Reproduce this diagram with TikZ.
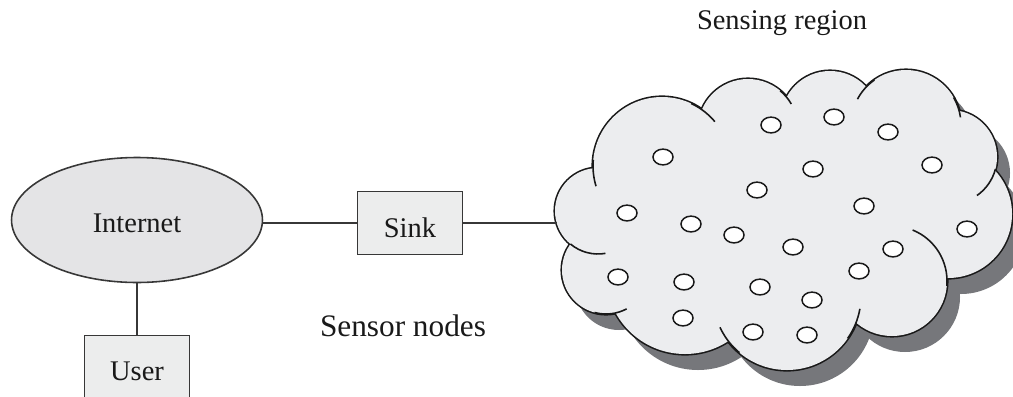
\documentclass[tikz,border=0pt]{standalone}
\usepackage{fontspec}
\setmainfont{Liberation Serif}
\usetikzlibrary{positioning,shapes.geometric}
\definecolor{inetgray}{RGB}{228,228,230}
\definecolor{boxgray}{RGB}{236,237,237}
\definecolor{cloudgray}{RGB}{236,237,239}
\definecolor{shadegray}{RGB}{118,119,123}
\definecolor{edgegray}{RGB}{55,55,55}
\definecolor{inkblack}{RGB}{25,25,25}

\begin{document}
\begin{tikzpicture}[x=0.02cm, y=-0.02cm,
  every node/.style={font=\fontsize{16.2}{19}\selectfont, text=inkblack},
  box/.style={draw=edgegray, line width=0.9pt, fill=boxgray, minimum width=2.1cm, minimum height=1.26cm, inner sep=0pt, text height=15pt, text depth=0pt},
  link/.style={draw=edgegray, line width=0.9pt},
  sensor/.style={draw=inkblack, line width=0.85pt, fill=white}]
  \useasboundingbox (0,0) rectangle (1013,396);
  % cloud bumps: centre x / centre y / radius
  \def\bumps{598/211/43, 662/166/69, 748/129/50, 830/120/49, 906/125/55, 950/157/47, 948/214/64, 892/281/55, 787/296/74, 685/275/79, 606/270/44}
  \def\core{(598,211)--(662,166)--(748,129)--(830,120)--(906,125)--(950,157)--(948,214)--(892,281)--(787,296)--(685,275)--(606,270)--cycle}
  % shadow
  \foreach \cx/\cy/\r in \bumps \fill[shadegray] (\cx+13,\cy+16) circle (\r);
  \fill[shadegray,shift={(13,16)}] \core;
  % outline, then fill over the inner half
  \foreach \cx/\cy/\r in \bumps \draw[inkblack, line width=1.8pt] (\cx,\cy) circle (\r);
  \foreach \cx/\cy/\r in \bumps \fill[cloudgray] (\cx,\cy) circle (\r);
  \fill[cloudgray] \core;
  % notches where the bumps meet
  \foreach \cx/\cy/\r/\a/\b in {662/166/69/185/163, 662/166/69/295/320, 748/129/50/310/330,
      906/125/55/235/208, 906/125/55/330/352, 950/157/47/15/55, 892/281/55/5/-68,
      787/296/74/35/10, 787/296/74/130/155, 606/270/44/105/62, 598/211/43/130/80}
    \draw[inkblack, line width=0.9pt] (\cx,\cy) ++(\a:\r) arc (\a:\b:\r);
  % sensor nodes
  \foreach \sx/\sy in {663/157, 771/125, 834/117, 888/132, 932/165, 813/169, 757/190, 864/206,
      627/213, 691/224, 734/235, 793/247, 893/249, 967/229, 618/277, 684/282, 760/287,
      859/271, 812/300, 683/318, 753/332, 807/335}
    \draw[sensor] (\sx,\sy) ellipse (10 and 7.9);

  \node[ellipse, draw=edgegray, line width=0.9pt, fill=inetgray, minimum width=5.02cm, minimum height=2.5cm, inner sep=0pt, text height=14pt, text depth=0pt] (internet) at (137,220) {Internet};
  \node[box, text height=16.5pt] (sink) at (410,223) {Sink};
  \node[box] (user) at (137,367) {User};
  \node[font=\fontsize{17.8}{20}\selectfont] (sensorlbl) at (403,326) {Sensor nodes};
  \node (regionlbl) at (782,23) {Sensing region};
  \coordinate (cloudwest) at (557,223);

  \draw[link] (sink.west) -- (sink.west -| internet.east);
  \draw[link] (sink.east) -- (cloudwest);
  \draw[link] (internet.south) -- (user.north);
\end{tikzpicture}
\end{document}
